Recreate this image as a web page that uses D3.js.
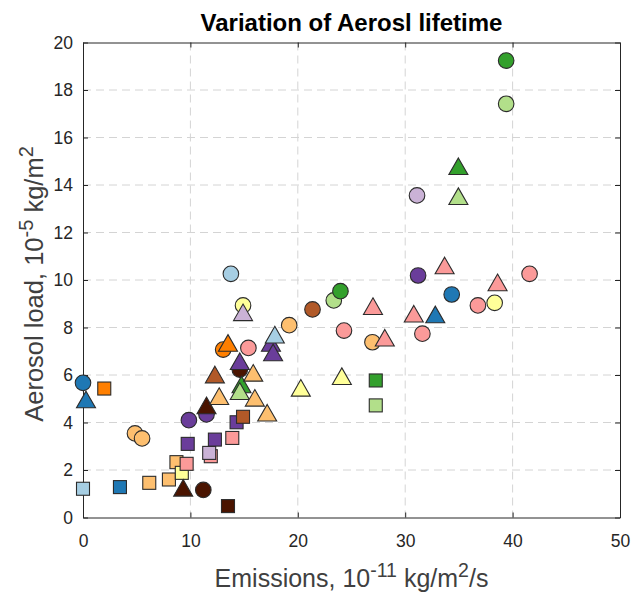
<!DOCTYPE html>
<meta charset="utf-8">
<style>
  body { margin: 0; background: #fff; }
  text { font-family: "Liberation Sans", Arial, Helvetica, sans-serif; fill: #262626; }
  .grid line { stroke: #d4d4d4; stroke-dasharray: 8,5; }
  .mark { stroke: #2b2b2b; stroke-width: 1.1; }
</style>
<body>
<script src="https://cdnjs.cloudflare.com/ajax/libs/d3/7.8.5/d3.min.js"></script>
<script>

// colour keys used by the markers
var palette = {
  lightblue: "#a6cee3", blue: "#1f78b4", lightgreen: "#b2df8a", green: "#33a02c",
  pink: "#fb9a99", lightorange: "#fdbf6f", orange: "#ff7f00", lightpurple: "#cab2d6",
  purple: "#6a3d9a", yellow: "#ffff99", brown: "#b15928", darkbrown: "#4a1400"
};

// circles
var circleX = [0.0, 4.84, 5.5, 9.86, 11.2, 11.5, 13.05, 13.77, 14.9, 15.4, 14.6, 19.2, 21.37,
               23.35, 23.97, 24.3, 26.95, 31.2, 31.1, 31.6, 34.33, 36.77, 38.33, 39.4, 39.4, 41.58];
var circleY = [5.67, 3.54, 3.33, 4.10, 1.16, 4.34, 7.07, 10.26, 8.93, 7.14, 6.23, 8.10, 8.76,
               9.14, 9.53, 7.87, 7.38, 10.19, 13.56, 7.74, 9.39, 8.93, 9.04, 17.42, 19.24, 10.26];
var circleC = ["blue", "lightorange", "lightorange", "purple", "darkbrown", "purple", "orange", "lightblue",
               "yellow", "pink", "darkbrown", "lightorange", "brown", "lightgreen", "green", "pink",
               "lightorange", "purple", "lightpurple", "pink", "blue", "pink", "yellow", "lightgreen",
               "green", "pink"];

// squares
var squareX = [0.0, 1.98, 3.44, 6.17, 8.0, 8.7, 9.2, 9.65, 9.75, 11.9, 11.75, 12.28, 13.9, 13.5,
               14.3, 14.9, 27.26, 27.26];
var squareY = [1.21, 5.43, 1.28, 1.46, 1.60, 2.33, 1.88, 2.26, 3.10, 2.58, 2.72, 3.28, 3.35, 0.48,
               4.01, 4.24, 5.77, 4.72];
var squareC = ["lightblue", "orange", "blue", "lightorange", "lightorange", "lightorange", "yellow", "pink",
               "purple", "pink", "lightpurple", "purple", "pink", "darkbrown", "purple", "brown",
               "green", "lightgreen"];

// triangles
var triX = [0.28, 9.33, 11.5, 12.28, 12.68, 13.5, 14.6, 14.9, 14.76, 14.6, 15.85, 16.0, 17.15, 17.5,
            17.7, 17.86, 20.28, 24.1, 27.0, 28.1, 30.8, 32.8, 33.67, 34.95, 34.95, 38.6];
var triY = [4.97, 1.25, 4.72, 6.02, 5.11, 7.35, 6.58, 8.64, 5.60, 5.32, 6.09, 5.04, 4.41, 7.35,
            6.95, 7.70, 5.46, 5.95, 8.90, 7.57, 8.58, 8.55, 10.61, 13.53, 14.79, 9.90];
var triC = ["blue", "darkbrown", "darkbrown", "brown", "lightorange", "orange", "purple", "lightpurple",
            "green", "lightgreen", "lightorange", "lightorange", "lightorange", "purple", "purple",
            "lightblue", "yellow", "yellow", "pink", "pink", "pink", "blue", "pink", "lightgreen",
            "green", "pink"];

var xTicks = [0, 10, 20, 30, 40, 50];
var yTicks = [0, 2, 4, 6, 8, 10, 12, 14, 16, 18, 20];

var W = 633, H = 593;
var margin = {top: 42.5, right: 13, bottom: 75.5, left: 83},
    width = W - margin.left - margin.right,
    height = H - margin.top - margin.bottom;

var svg = d3.select("body").append("svg")
    .attr("width", W)
    .attr("height", H);

var g = svg.append("g")
    .attr("transform", "translate(" + margin.left + "," + margin.top + ")");

var x = d3.scaleLinear().domain([0, 50]).range([0, width]);
var y = d3.scaleLinear().domain([0, 20]).range([height, 0]);

// dashed grid
var grid = g.append("g").attr("class", "grid");
grid.selectAll(".gx").data(xTicks.slice(1, -1)).enter().append("line")
    .attr("x1", function(d) { return x(d); }).attr("x2", function(d) { return x(d); })
    .attr("y1", 0).attr("y2", height);
grid.selectAll(".gy").data(yTicks.slice(1, -1)).enter().append("line")
    .attr("y1", function(d) { return y(d); }).attr("y2", function(d) { return y(d); })
    .attr("x1", 0).attr("x2", width);

// axes (ticks pointing inward, box all round)
function styleAxis(sel) {
  sel.select(".domain").attr("stroke", "#262626");
  sel.selectAll(".tick line").attr("stroke", "#262626");
  sel.selectAll("text").attr("font-size", "17.5px").attr("fill", "#262626")
     .attr("font-family", '"Liberation Sans", Arial, sans-serif');
}

g.append("g").attr("transform", "translate(0," + height + ")")
  .call(d3.axisBottom(x).tickValues(xTicks).tickSizeInner(-5).tickSizeOuter(0).tickPadding(17))
  .call(styleAxis);
g.append("g")
  .call(d3.axisLeft(y).tickValues(yTicks).tickSizeInner(-5).tickSizeOuter(0).tickPadding(10))
  .call(styleAxis);
g.append("g")
  .call(d3.axisTop(x).tickValues(xTicks).tickSizeInner(-5).tickSizeOuter(0).tickFormat(""))
  .call(styleAxis);
g.append("g").attr("transform", "translate(" + width + ",0)")
  .call(d3.axisRight(y).tickValues(yTicks).tickSizeInner(-5).tickSizeOuter(0).tickFormat(""))
  .call(styleAxis);

// markers
var marks = g.append("g");

marks.selectAll(".c").data(d3.range(circleX.length)).enter().append("circle")
    .attr("class", "mark")
    .attr("cx", function(i) { return x(circleX[i]); })
    .attr("cy", function(i) { return y(circleY[i]); })
    .attr("r", 7.8)
    .attr("fill", function(i) { return palette[circleC[i]]; });

var s = 13;
marks.selectAll(".s").data(d3.range(squareX.length)).enter().append("rect")
    .attr("class", "mark")
    .attr("x", function(i) { return x(squareX[i]) - s / 2; })
    .attr("y", function(i) { return y(squareY[i]) - s / 2; })
    .attr("width", s).attr("height", s)
    .attr("fill", function(i) { return palette[squareC[i]]; });

var tw = 9.5, th = 8.3;
marks.selectAll(".t").data(d3.range(triX.length)).enter().append("path")
    .attr("class", "mark")
    .attr("d", function(i) {
      var cx = x(triX[i]), cy = y(triY[i]);
      return "M" + cx + "," + (cy - th) + "L" + (cx + tw) + "," + (cy + th) +
             "L" + (cx - tw) + "," + (cy + th) + "Z";
    })
    .attr("fill", function(i) { return palette[triC[i]]; });

// title
svg.append("text")
    .attr("x", margin.left + width / 2).attr("y", 31)
    .attr("text-anchor", "middle")
    .attr("font-size", "24px").attr("font-weight", "bold")
    .style("fill", "#000")
    .text("Variation of Aerosl lifetime");

// x label
var xl = svg.append("text")
    .attr("x", margin.left + width / 2).attr("y", 587)
    .attr("text-anchor", "middle")
    .attr("font-size", "25px")
    .style("fill", "#404040");
xl.append("tspan").text("Emissions, 10");
xl.append("tspan").attr("dy", -10).attr("font-size", "19.5px").text("-11");
xl.append("tspan").attr("dy", 10).text(" kg/m");
xl.append("tspan").attr("dy", -10).attr("font-size", "19.5px").text("2");
xl.append("tspan").attr("dy", 10).text("/s");

// y label
var yl = svg.append("text")
    .attr("transform", "translate(43," + (margin.top + height / 2 + 4) + ") rotate(-90)")
    .attr("text-anchor", "middle")
    .attr("font-size", "25.5px")
    .style("fill", "#404040");
yl.append("tspan").text("Aerosol load, 10");
yl.append("tspan").attr("dy", -10).attr("font-size", "20px").text("-5");
yl.append("tspan").attr("dy", 10).text(" kg/m");
yl.append("tspan").attr("dy", -10).attr("font-size", "20px").text("2");

</script>
</body>
